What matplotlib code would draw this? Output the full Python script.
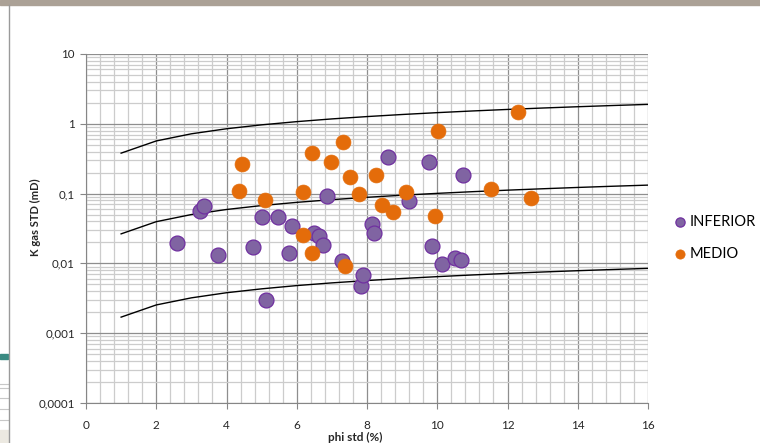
import matplotlib
matplotlib.use("Agg")
import matplotlib.pyplot as plt
from matplotlib.patches import Rectangle
from matplotlib.lines import Line2D
from matplotlib.ticker import LogLocator, MultipleLocator, NullFormatter

plt.rcParams['font.family'] = ['Lato', 'DejaVu Sans']

# samples, lower unit
inferior_phi = [2.60, 3.24, 3.37, 3.75, 4.75, 5.02, 5.12, 5.47, 5.79, 5.86,
                6.50, 6.62, 6.75, 6.87, 7.29, 7.83, 7.89, 8.14, 8.21, 8.59,
                9.20, 9.77, 9.85, 10.14, 10.51, 10.67, 10.74]
inferior_k = [0.0197, 0.0567, 0.0662, 0.0131, 0.0171, 0.0455, 0.0030, 0.0455,
              0.0139, 0.0346, 0.0269, 0.0243, 0.0181, 0.0925, 0.0108, 0.0047,
              0.0068, 0.0361, 0.0272, 0.330, 0.078, 0.283, 0.0175, 0.0099,
              0.0118, 0.0113, 0.182]

# samples, middle unit
medio_phi = [4.37, 4.44, 5.10, 6.17, 6.17, 6.42, 6.42, 6.98, 7.32, 7.36, 7.53,
             7.78, 8.26, 8.43, 8.74, 9.12, 9.95, 10.02, 11.52, 12.31, 12.66]
medio_k = [0.109, 0.265, 0.0815, 0.104, 0.0257, 0.376, 0.0143, 0.288, 0.54,
           0.0092, 0.174, 0.099, 0.184, 0.0684, 0.0543, 0.105, 0.0476, 0.785,
           0.118, 1.50, 0.086]

# reference trend lines
trend_phi = list(range(1, 17))
trend_high = [0.380, 0.568, 0.719, 0.849, 0.966, 1.074, 1.175, 1.269,
              1.359, 1.445, 1.527, 1.606, 1.683, 1.756, 1.828, 1.897]
trend_mid = [0.0265, 0.0396, 0.0501, 0.0592, 0.0674, 0.0749, 0.0819, 0.0885,
             0.0948, 0.1008, 0.1065, 0.1120, 0.1173, 0.1225, 0.1275, 0.1323]
trend_low = [0.00170, 0.00254, 0.00321, 0.00380, 0.00432, 0.00481, 0.00526,
             0.00568, 0.00608, 0.00646, 0.00683, 0.00719, 0.00753, 0.00786,
             0.00818, 0.00849]

y_ticks = [0.0001, 0.001, 0.01, 0.1, 1, 10]
y_labels = ['0,0001', '0,001', '0,01', '0,1', '1', '10']
x_ticks = [0, 2, 4, 6, 8, 10, 12, 14, 16]

W, H = 760, 443
fig = plt.figure(figsize=(W / 100, H / 100), dpi=100)

# window frame around the chart area
fig.patches.append(Rectangle((0, 1 - 5 / H), 1, 5 / H, transform=fig.transFigure,
                             color='#aba196', zorder=0))
fig.patches.append(Rectangle((0, 0), 8 / W, 13 / H, transform=fig.transFigure,
                             color='#ece9e1', zorder=0))
fig.patches.append(Rectangle((0, 1 - 359 / H), 8 / W, 5 / H, transform=fig.transFigure,
                             color='#3a8a82', zorder=0))
for yy in [384, 388, 398, 409, 420]:
    fig.lines.append(Line2D([0, 8 / W], [1 - yy / H] * 2, transform=fig.transFigure,
                            color='#c8c8c8', lw=0.8))
fig.lines.append(Line2D([8.5 / W] * 2, [0, 1 - 5 / H], transform=fig.transFigure,
                        color='#9a9a9a', lw=1))

ax = fig.add_axes([86 / W, 1 - 403 / H, (648 - 86) / W, (403 - 54) / H])
ax.set_yscale('log')
ax.set_xlim(0, 16)
ax.set_ylim(0.0001, 10)

ax.xaxis.set_major_locator(MultipleLocator(2))
ax.xaxis.set_minor_locator(MultipleLocator(0.4))
ax.yaxis.set_minor_locator(LogLocator(base=10, subs=range(2, 10)))
ax.yaxis.set_minor_formatter(NullFormatter())
ax.set_yticks(y_ticks)
ax.set_yticklabels(y_labels)
ax.set_xticks(x_ticks)

ax.grid(which='major', color='#8e8e8e', lw=0.9)
ax.grid(which='minor', color='#cccccc', lw=0.9)
ax.set_axisbelow(True)

for side in ['top', 'right']:
    ax.spines[side].set_visible(False)
for side in ['left', 'bottom']:
    ax.spines[side].set_color('#868686')
ax.tick_params(which='major', length=4, color='#868686', labelsize=8.3,
               labelcolor='#262626', pad=4)
ax.tick_params(axis='x', pad=8, labelsize=8.5)
ax.tick_params(which='minor', length=0)

for trend in [trend_high, trend_mid, trend_low]:
    ax.plot(trend_phi, trend, color='black', lw=1, zorder=2)

ax.scatter(inferior_phi, inferior_k, s=115, color='#8064a2', edgecolor='#7030a0',
           linewidth=0.9, zorder=3, label='INFERIOR')
ax.scatter(medio_phi, medio_k, s=115, color='#e46c0a', edgecolor='#e46c0a',
           linewidth=0.5, zorder=4, label='MEDIO')

fig.text(35 / W, 1 - 217 / H, 'K gas STD (mD)', rotation=90, fontsize=8,
         fontweight='bold', ha='center', va='center', color='#262626')
fig.text(355 / W, 1 - 437 / H, 'phi std (%)', fontsize=8.5, fontweight='bold',
         ha='center', va='center', color='#262626')

handles, labels = ax.get_legend_handles_labels()
fig.legend(handles, labels, loc='center left', bbox_to_anchor=(668 / W, 1 - 238 / H),
           frameon=False, fontsize=10.5, markerscale=0.62, labelspacing=1.2,
           handlelength=0.7, handletextpad=0.25, borderpad=0)

fig.savefig('out.png', dpi=100)
